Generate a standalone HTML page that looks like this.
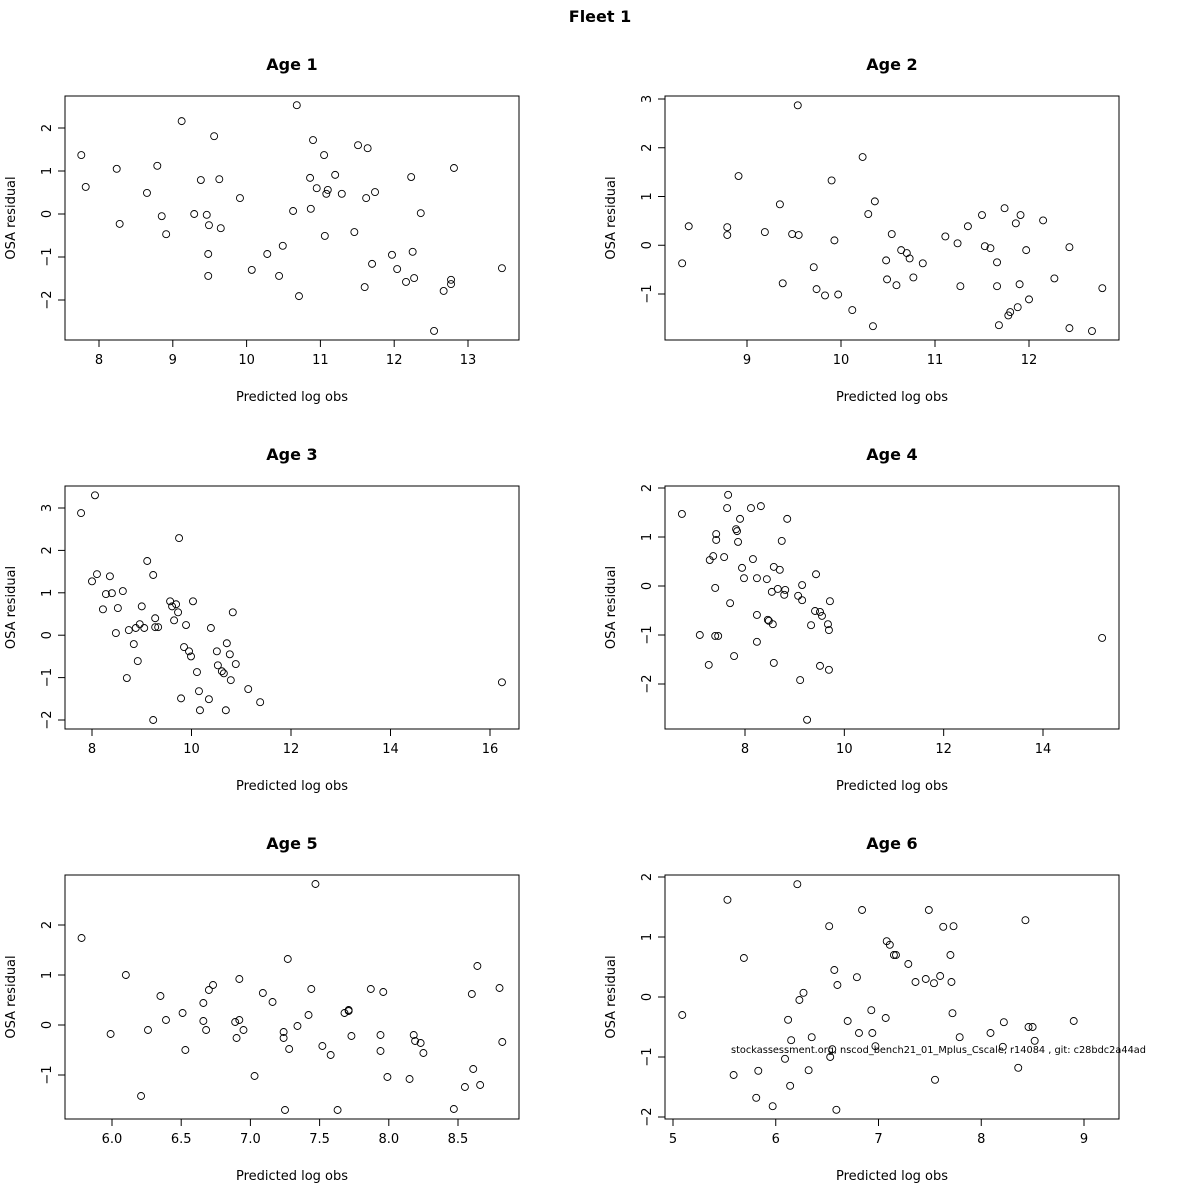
<!DOCTYPE html>
<html><head><meta charset="utf-8"><style>
html,body{margin:0;padding:0;background:#fff;}
svg{display:block;font-family:"DejaVu Sans","Liberation Sans",sans-serif;}
</style></head><body>
<svg id="chart" width="1200" height="1200" viewBox="0 0 1200 1200">
<text x="600" y="22" text-anchor="middle" font-weight="bold" font-size="16">Fleet 1</text>
<text x="731" y="1053" font-size="10" textLength="415" lengthAdjust="spacingAndGlyphs">stockassessment.org, nscod_bench21_01_Mplus_Cscale, r14084 , git: c28bdc2a44ad</text>
</svg>
<script>
const titles=["Age 1","Age 2","Age 3","Age 4","Age 5","Age 6"];
const xTicks1=[8,9,10,11,12,13], yTicks1=[-2,-1,0,1,2];
const xTicks2=[9,10,11,12], yTicks2=[-1,0,1,2,3];
const xTicks3=[8,10,12,14,16], yTicks3=[-2,-1,0,1,2,3];
const xTicks4=[8,10,12,14], yTicks4=[-2,-1,0,1,2];
const xTicks5=[6.0,6.5,7.0,7.5,8.0,8.5], yTicks5=[-1,0,1,2];
const xTicks6=[5,6,7,8,9], yTicks6=[-2,-1,0,1,2];

const predicted1=[7.76,7.82,8.24,8.28,8.65,8.79,8.85,8.91,9.12,9.29,9.38,9.46,9.49,9.48,9.48,9.56,9.63,9.65,9.91,10.07,10.28,10.44,10.49,10.63,10.68,10.71,10.86,10.87,10.90,10.95,11.05,11.06,11.08,11.10,11.20,11.29,11.46,11.51,11.60,11.62,11.64,11.70,11.74,11.97,12.04,12.16,12.23,12.25,12.27,12.36,12.54,12.67,12.77,12.77,12.81,13.46];
const residual1=[1.37,0.63,1.05,-0.23,0.49,1.12,-0.05,-0.47,2.16,0.0,0.79,-0.02,-0.26,-0.93,-1.44,1.81,0.81,-0.33,0.37,-1.30,-0.93,-1.44,-0.74,0.07,2.53,-1.91,0.84,0.12,1.72,0.60,1.37,-0.51,0.47,0.56,0.91,0.47,-0.42,1.60,-1.70,0.37,1.53,-1.16,0.51,-0.95,-1.28,-1.58,0.86,-0.88,-1.49,0.02,-2.72,-1.79,-1.53,-1.63,1.07,-1.26];
const predicted2=[8.31,8.38,8.79,8.79,8.91,9.19,9.35,9.38,9.48,9.54,9.55,9.71,9.74,9.83,9.90,9.93,9.97,10.12,10.23,10.29,10.34,10.36,10.48,10.49,10.54,10.59,10.64,10.70,10.73,10.77,10.87,11.11,11.24,11.27,11.35,11.50,11.53,11.59,11.66,11.66,11.68,11.74,11.78,11.80,11.86,11.88,11.90,11.91,11.97,12.00,12.15,12.27,12.43,12.43,12.67,12.78];
const residual2=[-0.37,0.39,0.37,0.21,1.42,0.27,0.84,-0.78,0.23,2.87,0.21,-0.45,-0.90,-1.03,1.33,0.10,-1.01,-1.33,1.81,0.64,-1.66,0.90,-0.31,-0.70,0.23,-0.82,-0.10,-0.16,-0.27,-0.66,-0.37,0.18,0.04,-0.84,0.39,0.62,-0.02,-0.06,-0.35,-0.84,-1.64,0.76,-1.44,-1.37,0.45,-1.27,-0.80,0.62,-0.10,-1.11,0.51,-0.68,-0.04,-1.70,-1.76,-0.88];
const predicted3=[7.78,8.0,8.06,8.10,8.22,8.28,8.36,8.40,8.48,8.52,8.62,8.70,8.74,8.84,8.88,8.92,8.96,9.00,9.05,9.11,9.23,9.23,9.27,9.27,9.33,9.57,9.61,9.65,9.69,9.73,9.75,9.79,9.89,9.85,9.95,9.99,10.03,10.11,10.15,10.17,10.35,10.39,10.51,10.53,10.61,10.65,10.71,10.69,10.77,10.79,10.83,10.89,11.14,11.38,16.24];
const residual3=[2.88,1.27,3.30,1.44,0.61,0.97,1.39,0.99,0.05,0.64,1.04,-1.01,0.12,-0.21,0.17,-0.61,0.26,0.68,0.17,1.75,1.42,-2.00,0.19,0.40,0.19,0.80,0.68,0.35,0.73,0.54,2.29,-1.49,0.24,-0.28,-0.38,-0.50,0.80,-0.87,-1.32,-1.77,-1.51,0.17,-0.38,-0.71,-0.85,-0.90,-0.19,-1.77,-0.45,-1.06,0.54,-0.68,-1.27,-1.58,-1.11];
const predicted4=[6.73,7.09,7.27,7.29,7.36,7.40,7.40,7.42,7.42,7.46,7.58,7.64,7.66,7.70,7.78,7.82,7.84,7.86,7.90,7.94,7.98,8.12,8.16,8.24,8.24,8.24,8.32,8.44,8.46,8.48,8.54,8.56,8.58,8.58,8.66,8.70,8.74,8.79,8.81,8.85,9.07,9.11,9.15,9.15,9.25,9.33,9.43,9.41,9.51,9.51,9.55,9.67,9.69,9.71,9.69,15.19];
const residual4=[1.47,-1.00,-1.61,0.53,0.61,-0.04,-1.02,1.06,0.94,-1.02,0.59,1.59,1.86,-0.35,-1.43,1.16,1.12,0.90,1.37,0.37,0.16,1.59,0.55,0.16,-0.59,-1.14,1.63,0.14,-0.69,-0.71,-0.12,-0.78,0.39,-1.57,-0.06,0.33,0.92,-0.18,-0.08,1.37,-0.20,-1.92,-0.29,0.02,-2.73,-0.80,0.24,-0.51,-0.53,-1.63,-0.61,-0.78,-0.90,-0.31,-1.71,-1.06];
const predicted5=[5.78,5.99,6.10,6.21,6.26,6.35,6.39,6.51,6.53,6.66,6.66,6.68,6.70,6.73,6.89,6.90,6.92,6.92,6.95,7.03,7.09,7.16,7.24,7.24,7.25,7.27,7.28,7.34,7.42,7.44,7.47,7.52,7.58,7.63,7.68,7.71,7.71,7.73,7.87,7.94,7.94,7.96,7.99,8.15,8.18,8.19,8.23,8.25,8.47,8.55,8.60,8.61,8.64,8.66,8.80,8.82];
const residual5=[1.74,-0.18,1.00,-1.42,-0.10,0.58,0.10,0.24,-0.50,0.44,0.08,-0.10,0.70,0.80,0.06,-0.26,0.10,0.92,-0.10,-1.02,0.64,0.46,-0.14,-0.26,-1.70,1.32,-0.48,-0.02,0.20,0.72,2.82,-0.42,-0.60,-1.70,0.24,0.30,0.28,-0.22,0.72,-0.20,-0.52,0.66,-1.04,-1.08,-0.20,-0.32,-0.36,-0.56,-1.68,-1.24,0.62,-0.88,1.18,-1.20,0.74,-0.34];
const predicted6=[5.09,5.53,5.59,5.69,5.81,5.83,5.97,6.09,6.12,6.14,6.15,6.21,6.23,6.27,6.32,6.35,6.52,6.53,6.55,6.57,6.60,6.59,6.70,6.79,6.81,6.84,6.93,6.94,6.97,7.07,7.08,7.11,7.15,7.17,7.29,7.36,7.46,7.49,7.54,7.55,7.60,7.63,7.70,7.71,7.72,7.73,7.79,8.09,8.22,8.21,8.36,8.43,8.46,8.50,8.52,8.90];
const residual6=[-0.30,1.62,-1.30,0.65,-1.68,-1.23,-1.82,-1.03,-0.38,-1.48,-0.72,1.88,-0.05,0.07,-1.22,-0.67,1.18,-1.00,-0.87,0.45,0.20,-1.88,-0.40,0.33,-0.60,1.45,-0.22,-0.60,-0.82,-0.35,0.93,0.87,0.70,0.70,0.55,0.25,0.30,1.45,0.23,-1.38,0.35,1.17,0.70,0.25,-0.27,1.18,-0.67,-0.60,-0.42,-0.83,-1.18,1.28,-0.50,-0.50,-0.73,-0.40];

const panels=[
 {x:predicted1,y:residual1,xt:xTicks1,yt:yTicks1,box:[65,96,519,340],xd:[8,99,13,468],yd:[2,128,-2,300]},
 {x:predicted2,y:residual2,xt:xTicks2,yt:yTicks2,box:[665,96,1119,340],xd:[9,747,12,1029],yd:[3,99,-1,294]},
 {x:predicted3,y:residual3,xt:xTicks3,yt:yTicks3,box:[65,486,519,729],xd:[8,92,16,490],yd:[3,508,-2,720]},
 {x:predicted4,y:residual4,xt:xTicks4,yt:yTicks4,box:[665,486,1119,729],xd:[8,745,14,1043],yd:[2,488,-2,684]},
 {x:predicted5,y:residual5,xt:xTicks5,yt:yTicks5,box:[65,875,519,1119],xd:[6,112,8.5,458],yd:[2,925,-1,1075]},
 {x:predicted6,y:residual6,xt:xTicks6,yt:yTicks6,box:[665,875,1119,1119],xd:[5,673,9,1084],yd:[2,877,-2,1117]}
];
const NS='http://www.w3.org/2000/svg';
const svg=document.getElementById('chart');
function mk(tag,attrs,parent){const e=document.createElementNS(NS,tag);for(const k in attrs)e.setAttribute(k,attrs[k]);(parent||svg).appendChild(e);return e;}
panels.forEach((p,i)=>{
 const g=mk('g',{});
 
 
 const [L,T,R,B]=p.box;
 const sx=v=>p.xd[1]+(v-p.xd[0])*(p.xd[3]-p.xd[1])/(p.xd[2]-p.xd[0]);
 const sy=v=>p.yd[1]+(v-p.yd[0])*(p.yd[3]-p.yd[1])/(p.yd[2]-p.yd[0]);
 const box=mk('rect',{x:L,y:T,width:R-L,height:B-T,fill:'none',stroke:'#000','stroke-width':1},g);
 
 
 const cx=(L+R)/2;
 const t=mk('text',{x:cx,y:T-26,'text-anchor':'middle','font-weight':'bold','font-size':16},g);t.textContent=titles[i];
 
 
 const xl=mk('text',{x:cx,y:B+61,'text-anchor':'middle','font-size':13},g);xl.textContent='Predicted log obs';
 
 
 const ym=(T+B)/2, yx=L-50;
 const yl=mk('text',{x:yx,y:ym,'text-anchor':'middle','font-size':13,transform:`rotate(-90 ${yx} ${ym})`},g);yl.textContent='OSA residual';
 
 
 const xa=mk('line',{x1:sx(p.xt[0]),x2:sx(p.xt[p.xt.length-1]),y1:B,y2:B,stroke:'#000'},g);
 
 
 p.xt.forEach(v=>{
  const X=sx(v);
  mk('line',{x1:X,x2:X,y1:B,y2:B+7,stroke:'#000'},g);
  const tl=mk('text',{x:X,y:B+24,'text-anchor':'middle','font-size':13},g);
  tl.textContent=(i===4)?v.toFixed(1):String(v);
  
  
 });
 const ya=mk('line',{x1:L,x2:L,y1:sy(p.yt[0]),y2:sy(p.yt[p.yt.length-1]),stroke:'#000'},g);
 
 
 p.yt.forEach(v=>{
  const Y=sy(v);
  mk('line',{x1:L-7,x2:L,y1:Y,y2:Y,stroke:'#000'},g);
  const tx=L-14;
  const tl=mk('text',{x:tx,y:Y,'text-anchor':'middle','font-size':13,transform:`rotate(-90 ${tx} ${Y})`},g);
  tl.textContent=String(v).replace('-','\u2212');
  
  
 });
 p.x.forEach((v,j)=>{
  const c=mk('circle',{cx:sx(v),cy:sy(p.y[j]),r:3.5,fill:'none',stroke:'#000','stroke-width':0.9},g);
  
  
 });
});
</script>
</body></html>
